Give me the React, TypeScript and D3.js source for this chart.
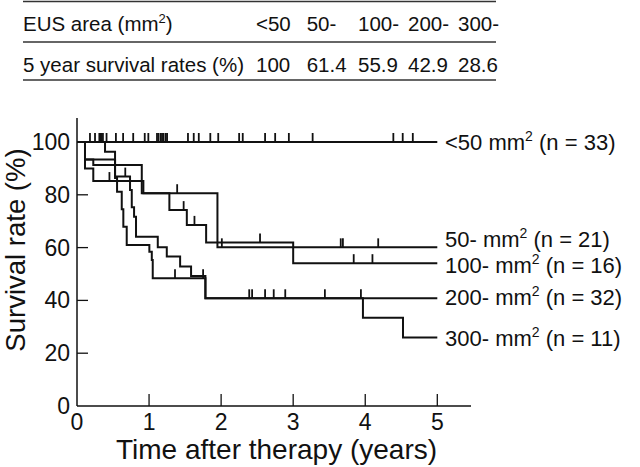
import React from "react";
import * as d3 from "d3";

// ---- data ----
const groupLabels = ["<50", "50-", "100-", "200-", "300-"];
const groupN = [33, 21, 16, 32, 11];
const fiveYearRates = ["100", "61.4", "55.9", "42.9", "28.6"];
const xTicks = [0, 1, 2, 3, 4, 5];
const yTicks = [0, 20, 40, 60, 80, 100];

// step events: time (years) of each drop and survival (%) after it
const lt50Times: number[] = [];
const lt50Surv: number[] = [];
const lt50Censor = [0.18, 0.25, 0.31, 0.33, 0.34, 0.36, 0.41, 0.54, 0.64, 0.78, 0.94, 0.99,
  1.11, 1.13, 1.16, 1.18, 1.2, 1.23, 1.25, 1.54, 1.62, 1.69, 1.85, 1.96, 2.25, 2.3,
  2.61, 2.75, 2.94, 3.27, 4.39, 4.52, 4.66];

const g50Times = [0.111, 0.226, 0.899, 1.949];
const g50Surv = [93.4, 91.3, 80.6, 60.1];
const g50Censor = [1.39, 2.01, 3.66, 3.69, 4.18];

const g100Times = [0.111, 0.226, 0.921, 1.282, 1.524, 1.792, 3.0];
const g100Surv = [90.0, 85.2, 80.6, 74.2, 68.6, 61.9, 54.1];
const g100Censor = [0.45, 1.48, 1.63, 2.54, 3.84, 4.1];

const g200Times = [0.111, 0.528, 0.736, 0.76, 0.792, 0.819, 1.121, 1.246, 1.431, 1.583, 1.782];
const g200Surv = [93.4, 86.9, 81.8, 75.3, 71.7, 64.1, 60.1, 56.6, 52.8, 49.2, 40.8];
const g200Censor = [0.67, 2.39, 2.43, 2.61, 2.73, 2.89, 3.44, 3.94];

const g300Times = [0.389, 0.528, 0.556, 0.621, 0.643, 0.69, 1.004, 1.038, 1.051, 1.782, 3.968, 4.524];
const g300Surv = [96.3, 86.4, 81.2, 74.5, 67.9, 61.0, 58.4, 55.3, 48.4, 40.8, 33.4, 25.9];
const g300Censor = [1.36, 1.75];

// ---- layout ----
const W = 640, H = 467;
const FONT = "'Liberation Sans', Arial, Helvetica, sans-serif";
const x = d3.scaleLinear().domain([0, 5]).range([77, 437.3]);
const y = d3.scaleLinear().domain([0, 100]).range([406, 142]);
const labelNudge = [0, -8.5, 1.5, -1, 0];
const tableCols = [256, 306.7, 358, 408, 458];

type Grp = { times: number[]; surv: number[]; censor: number[] };
const groups: Grp[] = [
  { times: lt50Times, surv: lt50Surv, censor: lt50Censor },
  { times: g50Times, surv: g50Surv, censor: g50Censor },
  { times: g100Times, surv: g100Surv, censor: g100Censor },
  { times: g200Times, surv: g200Surv, censor: g200Censor },
  { times: g300Times, surv: g300Surv, censor: g300Censor },
];

function survAt(g: Grp, t: number) {
  let s = 100;
  g.times.forEach((tt, i) => { if (tt <= t) s = g.surv[i]; });
  return s;
}

const line = d3.line<[number, number]>()
  .x((d) => x(d[0]))
  .y((d) => y(d[1]))
  .curve(d3.curveStepAfter);

export default function App() {
  return (
    <svg width={W} height={H} style={{ position: "absolute", left: 0, top: 0, background: "#fff" }}
      fontFamily={FONT}>
      {/* table */}
      {[1.5, 42, 80].map((ly, i) => (
        <line key={i} x1={23} x2={496} y1={ly} y2={ly} stroke="#333" strokeWidth={1.5} />
      ))}
      <text x={23} y={31} fontSize={20.5} fill="#111">
        EUS area (mm<tspan fontSize={13} dy={-8}>2</tspan><tspan dy={8}>)</tspan>
      </text>
      <text x={23} y={71.5} fontSize={20.5} fill="#111">5 year survival rates (%)</text>
      {groupLabels.map((g, i) => (
        <text key={"h" + i} x={tableCols[i]} y={31} fontSize={20.5} fill="#111">{g}</text>
      ))}
      {fiveYearRates.map((r, i) => (
        <text key={"r" + i} x={tableCols[i]} y={71.5} fontSize={20.5} fill="#111">{r}</text>
      ))}

      {/* axes */}
      <line x1={x(0)} x2={x(0)} y1={118} y2={y(0)} stroke="#111" strokeWidth={1.5} />
      <line x1={x(0)} x2={471} y1={y(0)} y2={y(0)} stroke="#111" strokeWidth={1.5} />
      {yTicks.map((t) => (
        <g key={"yt" + t}>
          {t > 0 && <line x1={x(0)} x2={x(0) + 11} y1={y(t)} y2={y(t)} stroke="#111" strokeWidth={1.3} />}
          <text x={70} y={y(t)} dy="0.35em" textAnchor="end" fontSize={23} fill="#111">{t}</text>
        </g>
      ))}
      {xTicks.map((t) => (
        <g key={"xt" + t}>
          {t > 0 && <line x1={x(t)} x2={x(t)} y1={y(0)} y2={y(0) - 12} stroke="#111" strokeWidth={1.3} />}
          <text x={x(t)} y={430} textAnchor="middle" fontSize={23} fill="#111">{t}</text>
        </g>
      ))}
      <text x={(113 + 440) / 2} y={459} textAnchor="middle" fontSize={28} fill="#111">
        Time after therapy (years)
      </text>
      <text transform={`translate(25,250) rotate(-90)`} textAnchor="middle" fontSize={27.5} fill="#111">
        Survival rate (%)
      </text>

      {/* curves */}
      {groups.map((g, gi) => {
        const pts: [number, number][] = [[0, 100]];
        g.times.forEach((t, i) => pts.push([t, g.surv[i]]));
        pts.push([5, g.surv.length ? g.surv[g.surv.length - 1] : 100]);
        return (
          <g key={"c" + gi}>
            <path d={line(pts) || ""} fill="none" stroke="#111" strokeWidth={2} />
            {g.censor.map((t, k) => {
              const s = survAt(g, t);
              return (
                <line key={k} x1={x(t)} x2={x(t)} y1={y(s)} y2={y(s) - 9} stroke="#111" strokeWidth={1.8} />
              );
            })}
          </g>
        );
      })}

      {/* curve labels */}
      {groupLabels.map((g, i) => {
        const last = groups[i].surv.length ? groups[i].surv[groups[i].surv.length - 1] : 100;
        return (
          <text key={"l" + i} x={445} y={y(last) + 8 + labelNudge[i]} fontSize={22} fill="#111">
            {g} mm<tspan fontSize={14} dy={-9}>2</tspan><tspan dy={9}> (n = {groupN[i]})</tspan>
          </text>
        );
      })}
    </svg>
  );
}
